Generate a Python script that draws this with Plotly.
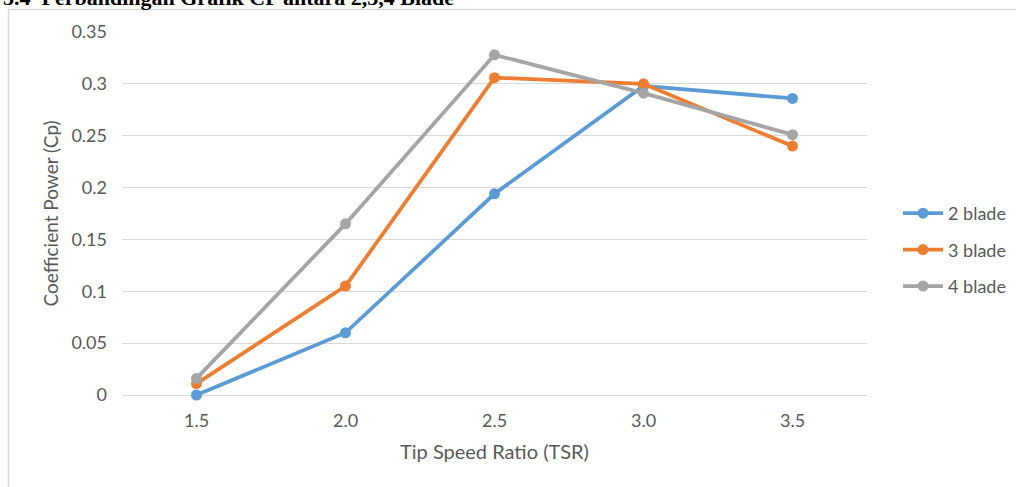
import plotly.graph_objects as go

tsr = ["1.5", "2.0", "2.5", "3.0", "3.5"]
cp_2_blade = [0.000, 0.060, 0.194, 0.298, 0.286]
cp_3_blade = [0.011, 0.105, 0.306, 0.300, 0.240]
cp_4_blade = [0.016, 0.165, 0.328, 0.291, 0.251]
series_names = ["2 blade", "3 blade", "4 blade"]
colors = ["#5B9BD5", "#ED7D31", "#A5A5A5"]
y_ticks = [0, 0.05, 0.1, 0.15, 0.2, 0.25, 0.3, 0.35]
y_tick_text = ["0", "0.05", "0.1", "0.15", "0.2", "0.25", "0.3", "0.35"]

FONT = "Lato, Open Sans, sans-serif"
TEXT = "#595959"

fig = go.Figure()
for i, (name, vals) in enumerate(zip(series_names, [cp_2_blade, cp_3_blade, cp_4_blade])):
    fig.add_trace(go.Scatter(
        x=tsr, y=vals, name=name, mode="lines+markers",
        line=dict(color=colors[i], width=3.75),
        marker=dict(color=colors[i], size=11),
        legendgroup=name,
        cliponaxis=False,
    ))

W, H = 1016, 487
L, R, T, B = 122, 149, 32, 92
pw = W - L - R
ph = H - T - B

def px(x):
    return (x - L) / pw

def py(y):
    return (H - B - y) / ph

fig.update_layout(
    width=W, height=H,
    margin=dict(l=L, r=R, t=T, b=B, autoexpand=False),
    paper_bgcolor="white", plot_bgcolor="white",
    font=dict(family=FONT, size=18, color=TEXT),
    showlegend=True,
    legend=dict(
        x=px(898), xanchor="left",
        y=py(250), yanchor="middle",
        font=dict(family=FONT, size=18, color=TEXT),
        tracegroupgap=10,
        itemwidth=40,
        bgcolor="rgba(0,0,0,0)",
    ),
    xaxis=dict(
        type="category", range=[-0.5, 4.5],
        showgrid=False, showline=False, zeroline=False, ticks="",
        ticklabelstandoff=13,
        tickfont=dict(family=FONT, size=18, color=TEXT),
        title=dict(text="Tip Speed Ratio (TSR)", font=dict(family=FONT, size=20, color=TEXT), standoff=14),
        automargin=False,
    ),
    yaxis=dict(
        range=[0, 0.35], tickvals=y_ticks, ticktext=y_tick_text,
        showgrid=True, gridcolor="#D9D9D9", gridwidth=1,
        zeroline=True, zerolinecolor="#D9D9D9", zerolinewidth=1,
        showline=False, ticks="",
        ticklabelstandoff=14,
        tickfont=dict(family=FONT, size=18, color=TEXT),
        title=dict(text="Coefficient Power (Cp)", font=dict(family=FONT, size=19, color=TEXT), standoff=7),
        automargin=False,
    ),
    shapes=[
        dict(type="line", xref="paper", yref="paper",
             x0=px(8), x1=px(W + 5), y0=py(9.5), y1=py(9.5),
             line=dict(color="#D9D9D9", width=1.5)),
        dict(type="line", xref="paper", yref="paper",
             x0=px(8.5), x1=px(8.5), y0=py(9.5), y1=py(H + 5),
             line=dict(color="#D9D9D9", width=1.5)),
    ],
    annotations=[
        dict(text="<b>3.4  Perbandingan Grafik CP antara 2,3,4 Blade</b>",
             xref="paper", yref="paper",
             x=px(1), xanchor="left",
             y=py(12), yanchor="bottom",
             showarrow=False,
             font=dict(family="Liberation Serif, Times New Roman, serif", size=22, color="black")),
    ],
)

fig.write_html("out.html", config={"displayModeBar": False},
               post_script="document.body.style.margin='0';document.body.style.padding='0';")
